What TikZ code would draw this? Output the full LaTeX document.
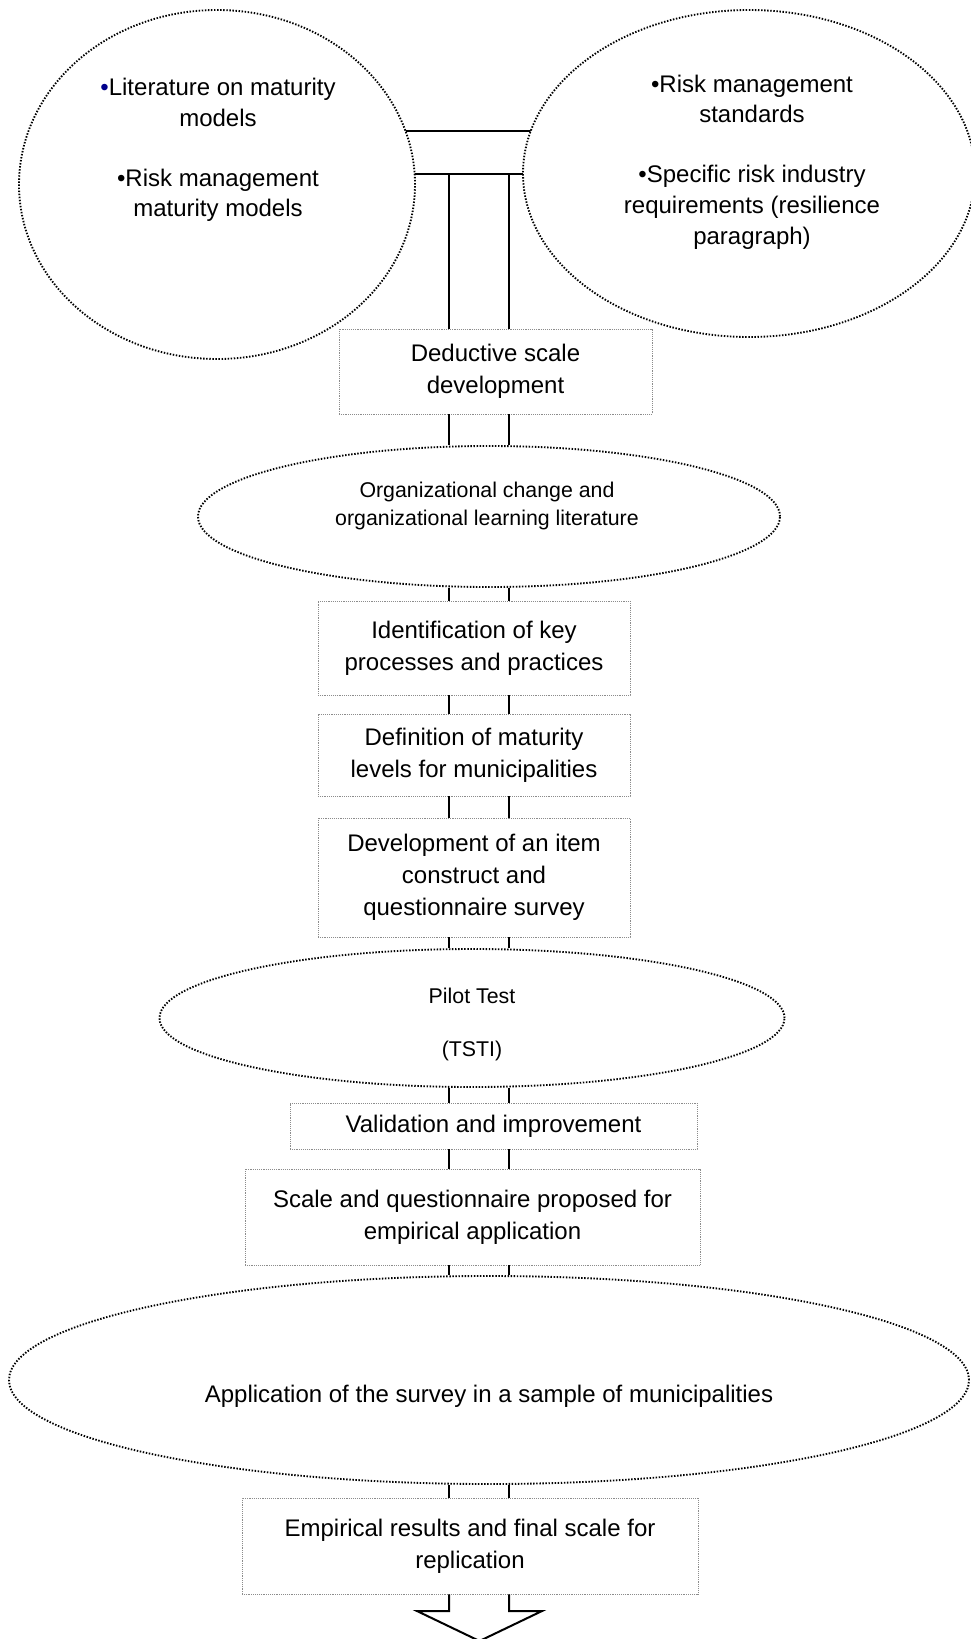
\documentclass[tikz,border=0pt]{standalone}
\usepackage{fontspec}
\setmainfont{Liberation Sans}
\usetikzlibrary{shapes.geometric, backgrounds}
\tikzstyle{dotellipse} = [ellipse, draw=black, fill=white, line width=1.4pt, dash pattern=on 1.1pt off 1.2pt, inner sep=0pt]
\tikzstyle{stepbox} = [rectangle, draw=black!45, fill=white, line width=0.7pt, dash pattern=on 0.7pt off 0.7pt, inner sep=0pt, align=center, font=\fontsize{18}{24}\selectfont]
\tikzstyle{bigtext} = [align=center, inner sep=0pt, font=\fontsize{18}{23}\selectfont]
\tikzstyle{smalltext} = [align=center, inner sep=0pt, font=\fontsize{16}{21}\selectfont]
\tikzstyle{shaft} = [line width=1.5pt]

\begin{document}
\begin{tikzpicture}[x=0.75pt, y=-0.75pt]

    \useasboundingbox (0,0) rectangle (971,1639);

    % two sources at the top
    \node (litEll) [dotellipse, minimum width=297pt, minimum height=261.75pt] at (217,184.5) {};
    \node (litText) [bigtext] at (218,150) {{\color{blue!55!black}•}Literature on maturity\\models\\[22pt]•Risk management\\maturity models};
    \node (stdEll) [dotellipse, minimum width=339pt, minimum height=245.25pt] at (749,173.5) {};
    \node (stdText) [bigtext] at (752,162) {•Risk management\\standards\\[22pt]•Specific risk industry\\requirements (resilience\\paragraph)};

    \node (dedBox) [stepbox, minimum width=234.75pt, minimum height=63.75pt] at (495.5,371.5) {Deductive scale\\development};
    \node (orgEll) [dotellipse, minimum width=436.5pt, minimum height=105.75pt] at (489,516.5) {};
    \node (orgText) [smalltext] at (487,506) {Organizational change and\\organizational learning literature};
    \node (keyBox) [stepbox, minimum width=234pt, minimum height=70.5pt] at (474,648) {Identification of key\\processes and practices};
    \node (levelBox) [stepbox, minimum width=234pt, minimum height=61.5pt] at (474,755) {Definition of maturity\\levels for municipalities};
    \node (itemBox) [stepbox, minimum width=234pt, minimum height=89.25pt] at (474,877.5) {Development of an item\\construct and\\questionnaire survey};
    \node (pilotEll) [dotellipse, minimum width=468.75pt, minimum height=103.5pt] at (472,1018) {};
    \node (pilotText) [smalltext] at (472,1024.5) {Pilot Test\\[18.75pt](TSTI)};
    \node (validBox) [stepbox, minimum width=305.25pt, minimum height=34.5pt] at (493.5,1126) {Validation and improvement};
    \node (scaleBox) [stepbox, minimum width=341.25pt, minimum height=72pt] at (472.5,1217) {Scale and questionnaire proposed for\\empirical application};
    \node (appEll) [dotellipse, minimum width=720pt, minimum height=156pt] at (489,1380) {};
    \node (appText) [bigtext] at (489,1396) {Application of the survey in a sample of municipalities};
    \node (resBox) [stepbox, minimum width=342pt, minimum height=72pt] at (470,1546) {Empirical results and final scale for\\replication};

    % outline of the big arrow
    \coordinate (shaftL) at (449,0);
    \coordinate (shaftR) at (509,0);
    \coordinate (barTop) at (0,131);
    \coordinate (barLow) at (0,174);
    \coordinate (headLeft) at (417,1611);
    \coordinate (headTip) at (479.5,1641);
    \coordinate (headRight) at (542,1611);

    \begin{pgfonlayer}{background}
        \draw [shaft] (litEll.center |- barTop) -- (stdEll.center |- barTop);
        \draw [shaft] (litEll.center |- barLow) -- (stdEll.center |- barLow);
    \end{pgfonlayer}

    \draw [shaft] (barLow -| shaftL) -- (dedBox.north -| shaftL) (barLow -| shaftR) -- (dedBox.north -| shaftR);
    \draw [shaft] (dedBox.south -| shaftL) -- (orgEll.north -| shaftL) (dedBox.south -| shaftR) -- (orgEll.north -| shaftR);
    \draw [shaft] (orgEll.south -| shaftL) -- (keyBox.north -| shaftL) (orgEll.south -| shaftR) -- (keyBox.north -| shaftR);
    \draw [shaft] (keyBox.south -| shaftL) -- (levelBox.north -| shaftL) (keyBox.south -| shaftR) -- (levelBox.north -| shaftR);
    \draw [shaft] (levelBox.south -| shaftL) -- (itemBox.north -| shaftL) (levelBox.south -| shaftR) -- (itemBox.north -| shaftR);
    \draw [shaft] (itemBox.south -| shaftL) -- (pilotEll.north -| shaftL) (itemBox.south -| shaftR) -- (pilotEll.north -| shaftR);
    \draw [shaft] (pilotEll.south -| shaftL) -- (validBox.north -| shaftL) (pilotEll.south -| shaftR) -- (validBox.north -| shaftR);
    \draw [shaft] (validBox.south -| shaftL) -- (scaleBox.north -| shaftL) (validBox.south -| shaftR) -- (scaleBox.north -| shaftR);
    \draw [shaft] (scaleBox.south -| shaftL) -- (appEll.north -| shaftL) (scaleBox.south -| shaftR) -- (appEll.north -| shaftR);
    \draw [shaft] (appEll.south -| shaftL) -- (resBox.north -| shaftL) (appEll.south -| shaftR) -- (resBox.north -| shaftR);
    \draw [shaft] (resBox.south -| shaftL) -- (headLeft -| shaftL) -- (headLeft) -- (headTip) -- (headRight) -- (headRight -| shaftR) -- (resBox.south -| shaftR);

\end{tikzpicture}
\end{document}
